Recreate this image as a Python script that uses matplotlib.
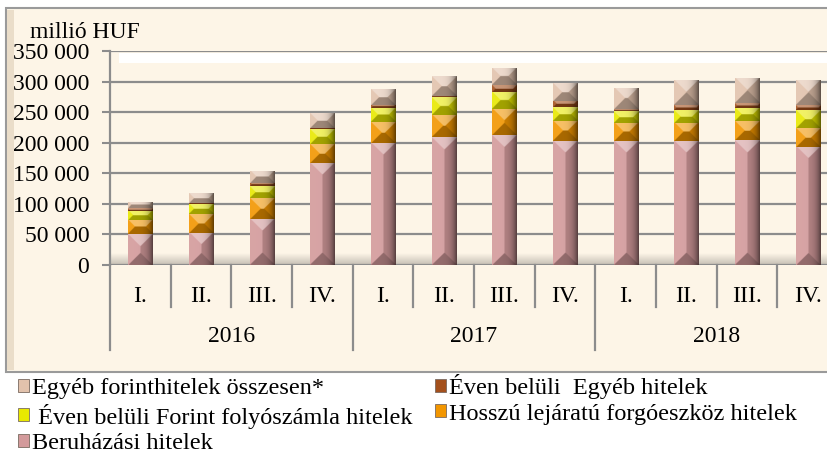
import numpy as np
import matplotlib
matplotlib.use("Agg")
import matplotlib.pyplot as plt
from matplotlib.patches import Rectangle, Patch
from matplotlib.transforms import blended_transform_factory
from matplotlib.colors import to_rgb

plt.rcParams['font.family'] = ['Liberation Serif', 'DejaVu Serif']

# data (millió HUF)
years = ['2016', '2017', '2018']
quarters = ['I.', 'II.', 'III.', 'IV.'] * 3
beruhazasi = [50, 53, 76, 167, 200, 209, 212, 203, 203, 203, 204, 193]
hosszu = [23, 30, 34, 31, 34, 37, 43, 33, 30, 30, 31, 31]
forint_folyo = [16, 17, 19, 24, 23, 28, 28, 22, 19, 21, 22, 29]
even_egyeb = [4, 2, 5, 2, 5, 3, 11, 11, 3, 7, 8, 8]
egyeb_osszes = [10, 16, 20, 24, 26, 32, 28, 29, 35, 41, 41, 41]

series = [
    ('Beruházási hitelek', beruhazasi, '#D39A9B'),
    ('Hosszú lejáratú forgóeszköz hitelek', hosszu, '#F29600'),
    (' Éven belüli Forint folyószámla hitelek', forint_folyo, '#E8E800'),
    ('Éven belüli  Egyéb hitelek', even_egyeb, '#A4501C'),
    ('Egyéb forinthitelek összesen*', egyeb_osszes, '#E2C2AC'),
]

CREAM = '#FDF5E7'
GRID = '#8C8C8C'
FS = 17


def bevel(ax, patch, color, px_per_x, px_per_y):
    """Paint a pyramid-like bevel into a bar segment (clipped to the patch)."""
    x0, y0 = patch.get_x(), patch.get_y()
    w, h = patch.get_width(), patch.get_height()
    if h <= 0:
        return
    wp, hp = w * px_per_x, h * px_per_y
    nx = 48
    ny = max(2, int(round(nx * hp / wp)))
    xs = (np.arange(nx) + 0.5) / nx * wp
    ys = (np.arange(ny) + 0.5) / ny * hp
    X, Y = np.meshgrid(xs, ys)
    d = np.stack([Y, X, wp - X, hp - Y])  # top, left, right, bottom
    idx = np.argmin(d, axis=0)
    base = np.array(to_rgb(color))
    img = np.empty((ny, nx, 3))
    faces = {0: base + (1 - base) * 0.4,
             1: base + (1 - base) * 0.1,
             2: base * 0.85,
             3: base * 0.7}
    for k, c in faces.items():
        img[idx == k] = c
    # dark rim on the right edge, like a rounded column
    fall = 1 - 0.55 * (X / wp) ** 5
    img = np.clip(img * fall[..., None], 0, 1)
    im = ax.imshow(img, extent=(x0, x0 + w, y0, y0 + h), origin='upper',
                   aspect='auto', zorder=3, interpolation='bilinear')
    im.set_clip_path(patch)


fig = plt.figure(figsize=(8.28, 4.59), dpi=100)

# cream chart area with grey frame
fig.patches.append(Rectangle((6 / 828, 1 - 372 / 459), 1.0, 364 / 459,
                             transform=fig.transFigure, facecolor=CREAM,
                             edgecolor='#9A9A9A', lw=1.5, zorder=-3))
fig.patches.append(Rectangle((7 / 828, 1 - 370 / 459), 7 / 828, 360 / 459,
                             transform=fig.transFigure, facecolor='#EADDC9',
                             edgecolor='none', zorder=-2))

ax = fig.add_axes([110 / 828, 1 - 265 / 459, 728 / 828, 214 / 459])
ax.set_facecolor(CREAM)
n = len(quarters)
x = np.arange(n)
bw = 0.4
px_per_x = 728 / n
px_per_y = 214 / 350

bottom = np.zeros(n)
for label, vals, color in series:
    bars = ax.bar(x, vals, bw, bottom=bottom, color=color, label=label,
                  zorder=3, linewidth=0)
    for p in bars.patches:
        bevel(ax, p, color, px_per_x, px_per_y)
    bottom += np.array(vals)

# plot area bevel: white band at top, shadow at the floor
ax.axhspan(331, 347, xmin=0.012, xmax=1, color='white', lw=0, zorder=1)
shade = np.linspace(0.78, 1.0, 30)[:, None] * np.array(to_rgb(CREAM))[None, :]
ax.imshow(shade[::-1][:, None, :], extent=(-0.5, n - 0.5, 0, 18),
          aspect='auto', zorder=1.5, interpolation='bilinear')
ax.set_xlim(-0.5, n - 0.5)
ax.set_ylim(0, 350)

ax.set_yticks(np.arange(0, 351, 50))
ax.set_yticklabels(['0' if v == 0 else f'{v * 1000:,.0f}'.replace(',', ' ')
                    for v in range(0, 351, 50)], fontsize=FS)
ax.yaxis.grid(True, color=GRID, lw=1.6, zorder=2)
ax.tick_params(axis='y', length=6, width=1.5, color=GRID, pad=9)
ax.set_xticks([])
for s in ['top', 'right', 'bottom']:
    ax.spines[s].set_visible(False)
ax.spines['left'].set_color(GRID)
ax.spines['left'].set_linewidth(1.6)

# two-level category axis
trans = blended_transform_factory(ax.transData, ax.transAxes)
for i in range(n + 1):
    lo = -0.397 if i % 4 == 0 else -0.196
    ax.plot([i - 0.5, i - 0.5], [0, lo], transform=trans, color=GRID, lw=1.6,
            clip_on=False, zorder=2)
for i, q in enumerate(quarters):
    ax.text(i, -0.145, q, transform=trans, ha='center', va='center', fontsize=FS)
for j, yr in enumerate(years):
    ax.text(j * 4 + 1.5, -0.335, yr, transform=trans, ha='center', va='center',
            fontsize=FS)

fig.text(30 / 828, 1 - 32 / 459, 'millió HUF', fontsize=FS, va='center', ha='left')

# legend (row-major order as in the reference)
lut = {s[0]: s for s in series}
order = ['Egyéb forinthitelek összesen*', ' Éven belüli Forint folyószámla hitelek',
         'Beruházási hitelek', 'Éven belüli  Egyéb hitelek',
         'Hosszú lejáratú forgóeszköz hitelek']
handles = [Patch(facecolor=lut[k][2], edgecolor='#7a6a60', lw=0.6) for k in order]
fig.legend(handles, order, loc='upper left', bbox_to_anchor=(8 / 828, 1 - 364 / 459),
           ncol=2, frameon=False, fontsize=17.5, handlelength=0.45, handleheight=0.45,
           handletextpad=0.15, columnspacing=0.9, labelspacing=0.2,
           borderaxespad=0.0)

fig.savefig('out.png', dpi=100)
